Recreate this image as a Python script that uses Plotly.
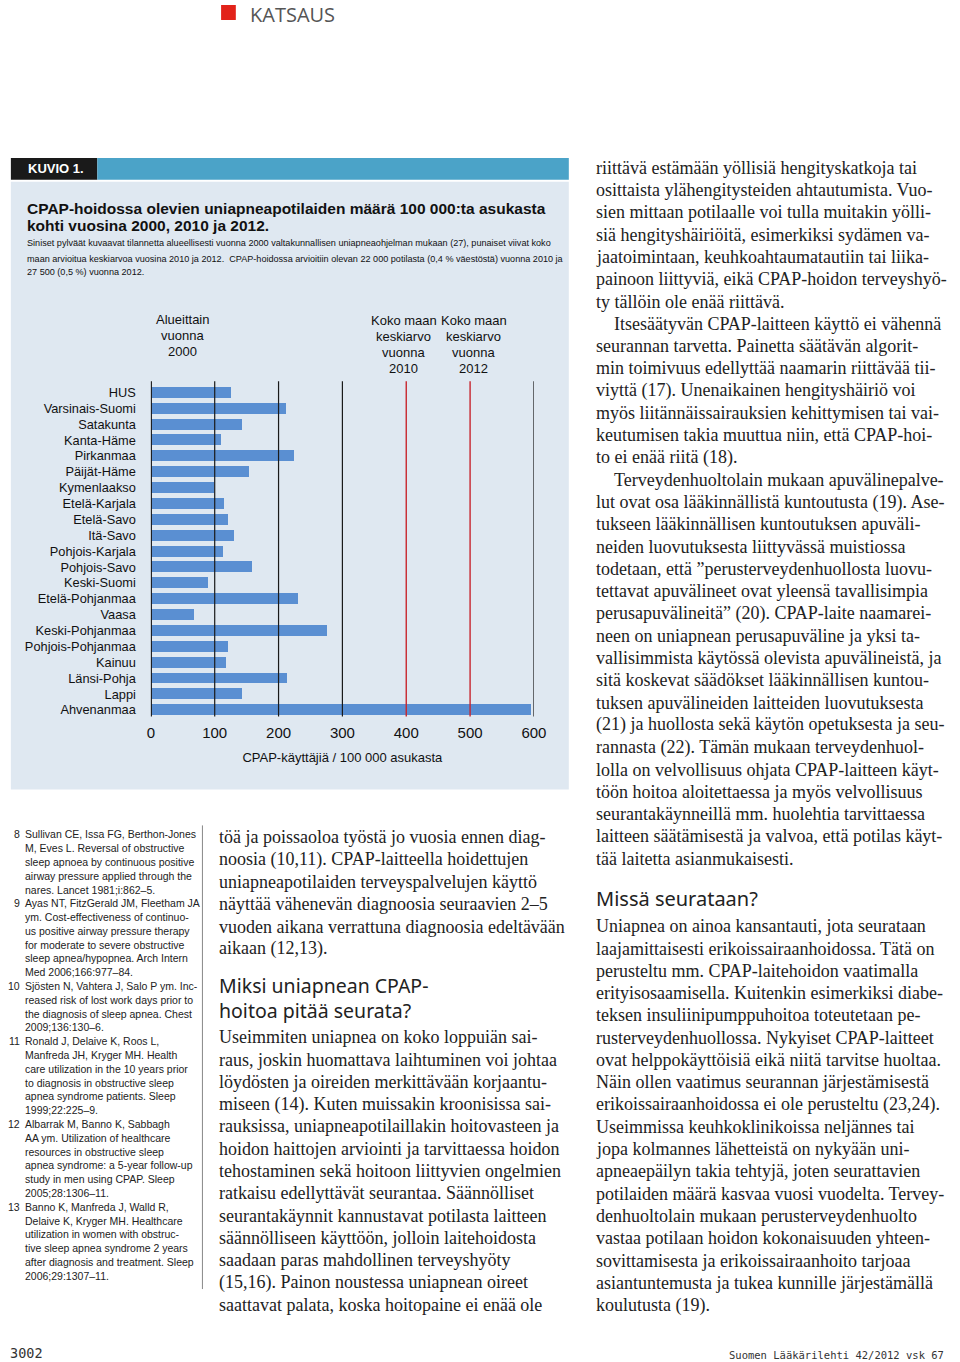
import plotly.graph_objects as go

W, H = 960, 1362

# ---------------- data ----------------
regions = ["HUS", "Varsinais-Suomi", "Satakunta", "Kanta-Häme", "Pirkanmaa", "Päijät-Häme",
           "Kymenlaakso", "Etelä-Karjala", "Etelä-Savo", "Itä-Savo", "Pohjois-Karjala",
           "Pohjois-Savo", "Keski-Suomi", "Etelä-Pohjanmaa", "Vaasa", "Keski-Pohjanmaa",
           "Pohjois-Pohjanmaa", "Kainuu", "Länsi-Pohja", "Lappi", "Ahvenanmaa"]
cpap_2000 = [125, 212, 143, 110, 224, 154, 99, 115, 121, 130, 113,
             158, 90, 230, 68, 275, 121, 118, 213, 142, 595]
avg_years = [2010, 2012]
avg_values = [400, 500]
x_ticks = [0, 100, 200, 300, 400, 500, 600]

NARROW = "'Liberation Sans Narrow', 'Arial Narrow', 'Liberation Sans', Arial, sans-serif"
SERIF = "'Liberation Serif', serif"
SANS = "'Noto Sans', 'Open Sans', sans-serif"


def px(x):
    return x / W


def py(y):
    return 1 - y / H


annotations = []


def txt(text, x, y, size, family=NARROW, color="#222", xanchor="left", weight="normal"):
    annotations.append(dict(text=text, x=px(x), y=py(y), xref="paper", yref="paper",
                            xanchor=xanchor, yanchor="middle", showarrow=False, borderpad=0,
                            align="left" if xanchor == "left" else xanchor,
                            font=dict(size=size, family=family, color=color, weight=weight)))


shapes = []


def rect(x0, y0, x1, y1, color, layer="below"):
    shapes.append(dict(type="rect", xref="paper", yref="paper", x0=px(x0), x1=px(x1),
                       y0=py(y1), y1=py(y0), fillcolor=color, line=dict(width=0), layer=layer))


# ---------------- page header ----------------
rect(221, 5, 236, 20, "#e2231a")
txt("KATSAUS", 249, 15, 20, family="'Open Sans', 'Noto Sans', sans-serif", color="#555")

# ---------------- figure box ----------------
rect(7, 158, 95, 180, "#1a1a1a")
rect(95, 158, 575, 180, "#4ba3c8")
rect(7, 182, 575, 790, "#dfe8f1")
txt("KUVIO 1.", 23, 169, 13, color="white", weight="bold")

txt("CPAP-hoidossa olevien uniapneapotilaiden määrä 100 000:ta asukasta", 22, 209, 15.5, weight="bold", color="#111")
txt("kohti vuosina 2000, 2010 ja 2012.", 22, 226, 15.5, weight="bold", color="#111")
txt("Siniset pylväät kuvaavat tilannetta alueellisesti vuonna 2000 valtakunnallisen uniapneaohjelman mukaan (27), punaiset viivat koko",
    22, 243, 9.1, color="#111")
txt("maan arvioitua keskiarvoa vuosina 2010 ja 2012.  CPAP-hoidossa arvioitiin olevan 22 000 potilasta (0,4 % väestöstä) vuonna 2010 ja",
    22, 259, 9.1, color="#111")
txt("27 500 (0,5 %) vuonna 2012.", 22, 272, 9.1, color="#111")

for i, t in enumerate(["Alueittain", "vuonna", "2000"]):
    txt(t, 182, 320 + 16 * i, 13, xanchor="center", color="#111")
for cx, yr in zip([407, 478], avg_years):
    for i, t in enumerate(["Koko maan", "keskiarvo", "vuonna", str(yr)]):
        txt(t, cx, 321 + 16 * i, 13, xanchor="center", color="#111")

# ---------------- chart ----------------
Y_TOP, Y_BOT = 381.5, 717.0
fig = go.Figure()
fig.add_trace(go.Bar(x=cpap_2000, y=regions, orientation="h", marker=dict(color="#5a8fd2", line=dict(width=0)),
                     width=0.69, showlegend=False))

for v in x_ticks:
    if v in avg_values:
        continue
    shapes.append(dict(type="line", xref="x", yref="paper", x0=v, x1=v, y0=py(Y_BOT), y1=py(Y_TOP),
                       line=dict(color="#1a1a1a", width=2.2 if v == 0 else 1.2), layer="above"))
for v in avg_values:
    shapes.append(dict(type="line", xref="x", yref="paper", x0=v, x1=v, y0=py(Y_BOT), y1=py(Y_TOP),
                       line=dict(color="#c8262e", width=1.4), layer="above"))

first_c, spacing = 392.8, 15.885
r_top = -(first_c - Y_TOP) / spacing
r_bot = (Y_BOT - first_c) / spacing

# ---------------- body text ----------------
LH = 22.3
right_col = [
    "riittävä estämään yöllisiä hengityskatkoja tai",
    "osittaista ylähengitysteiden ahtautumista. Vuo-",
    "sien mittaan potilaalle voi tulla muitakin yölli-",
    "siä hengityshäiriöitä, esimerkiksi sydämen va-",
    "jaatoimintaan, keuhkoahtaumatautiin tai liika-",
    "painoon liittyviä, eikä CPAP-hoidon terveyshyö-",
    "ty tällöin ole enää riittävä.",
    "    Itsesäätyvän CPAP-laitteen käyttö ei vähennä",
    "seurannan tarvetta. Painetta säätävän algorit-",
    "min toimivuus edellyttää naamarin riittävää tii-",
    "viyttä (17). Unenaikainen hengityshäiriö voi",
    "myös liitännäissairauksien kehittymisen tai vai-",
    "keutumisen takia muuttua niin, että CPAP-hoi-",
    "to ei enää riitä (18).",
    "    Terveydenhuoltolain mukaan apuvälinepalve-",
    "lut ovat osa lääkinnällistä kuntoutusta (19). Ase-",
    "tukseen lääkinnällisen kuntoutuksen apuväli-",
    "neiden luovutuksesta liittyvässä muistiossa",
    "todetaan, että ”perusterveydenhuollosta luovu-",
    "tettavat apuvälineet ovat yleensä tavallisimpia",
    "perusapuvälineitä” (20). CPAP-laite naamarei-",
    "neen on uniapnean perusapuväline ja yksi ta-",
    "vallisimmista käytössä olevista apuvälineistä, ja",
    "sitä koskevat säädökset lääkinnällisen kuntou-",
    "tuksen apuvälineiden laitteiden luovutuksesta",
    "(21) ja huollosta sekä käytön opetuksesta ja seu-",
    "rannasta (22). Tämän mukaan terveydenhuol-",
    "lolla on velvollisuus ohjata CPAP-laitteen käyt-",
    "töön hoitoa aloitettaessa ja myös velvollisuus",
    "seurantakäynneillä mm. huolehtia tarvittaessa",
    "laitteen säätämisestä ja valvoa, että potilas käyt-",
    "tää laitetta asianmukaisesti.",
]
right_col2 = [
    "Uniapnea on ainoa kansantauti, jota seurataan",
    "laajamittaisesti erikoissairaanhoidossa. Tätä on",
    "perusteltu mm. CPAP-laitehoidon vaatimalla",
    "erityisosaamisella. Kuitenkin esimerkiksi diabe-",
    "teksen insuliinipumppuhoitoa toteutetaan pe-",
    "rusterveydenhuollossa. Nykyiset CPAP-laitteet",
    "ovat helppokäyttöisiä eikä niitä tarvitse huoltaa.",
    "Näin ollen vaatimus seurannan järjestämisestä",
    "erikoissairaanhoidossa ei ole perusteltu (23,24).",
    "Useimmissa keuhkoklinikoissa neljännes tai",
    "jopa kolmannes lähetteistä on nykyään uni-",
    "apneaepäilyn takia tehtyjä, joten seurattavien",
    "potilaiden määrä kasvaa vuosi vuodelta. Tervey-",
    "denhuoltolain mukaan perusterveydenhuolto",
    "vastaa potilaan hoidon kokonaisuuden yhteen-",
    "sovittamisesta ja erikoissairaanhoito tarjoaa",
    "asiantuntemusta ja tukea kunnille järjestämällä",
    "koulutusta (19).",
]
mid_col = [
    "töä ja poissaoloa työstä jo vuosia ennen diag-",
    "noosia (10,11). CPAP-laitteella hoidettujen",
    "uniapneapotilaiden terveyspalvelujen käyttö",
    "näyttää vähenevän diagnoosia seuraavien 2–5",
    "vuoden aikana verrattuna diagnoosia edeltävään",
    "aikaan (12,13).",
]
mid_col2 = [
    "Useimmiten uniapnea on koko loppuiän sai-",
    "raus, joskin huomattava laihtuminen voi johtaa",
    "löydösten ja oireiden merkittävään korjaantu-",
    "miseen (14). Kuten muissakin kroonisissa sai-",
    "rauksissa, uniapneapotilaillakin hoitovasteen ja",
    "hoidon haittojen arviointi ja tarvittaessa hoidon",
    "tehostaminen sekä hoitoon liittyvien ongelmien",
    "ratkaisu edellyttävät seurantaa. Säännölliset",
    "seurantakäynnit kannustavat potilasta laitteen",
    "säännölliseen käyttöön, jolloin laitehoidosta",
    "saadaan paras mahdollinen terveyshyöty",
    "(15,16). Painon noustessa uniapnean oireet",
    "saattavat palata, koska hoitopaine ei enää ole",
]
BODY = 18
for i, t in enumerate(right_col):
    x = 602
    if t.startswith("    "):
        x = 620
        t = t.strip()
    txt(t, x, 168 + LH * i, BODY, family=SERIF, color="#222")
txt("Missä seurataan?", 602, 899, 20, family=SANS, color="#222")
for i, t in enumerate(right_col2):
    txt(t, 602, 927 + LH * i, BODY, family=SERIF, color="#222")
for i, t in enumerate(mid_col):
    txt(t, 218, 838 + LH * i, BODY, family=SERIF, color="#222")
txt("Miksi uniapnean CPAP-<br>hoitoa pitää seurata?", 218, 999, 19.5, family=SANS, color="#222")
for i, t in enumerate(mid_col2):
    txt(t, 218, 1038 + LH * i, BODY, family=SERIF, color="#222")

# references
refs = [
    ("8", ["Sullivan CE, Issa FG, Berthon-Jones", "M, Eves L. Reversal of obstructive",
           "sleep apnoea by continuous positive", "airway pressure applied through the",
           "nares. Lancet 1981;i:862–5."]),
    ("9", ["Ayas NT, FitzGerald JM, Fleetham JA", "ym. Cost-effectiveness of continuo-",
           "us positive airway pressure therapy", "for moderate to severe obstructive",
           "sleep apnea/hypopnea. Arch Intern", "Med 2006;166:977–84."]),
    ("10", ["Sjösten N, Vahtera J, Salo P ym. Inc-", "reased risk of lost work days prior to",
            "the diagnosis of sleep apnea. Chest", "2009;136:130–6."]),
    ("11", ["Ronald J, Delaive K, Roos L,", "Manfreda JH, Kryger MH. Health",
            "care utilization in the 10 years prior", "to diagnosis in obstructive sleep",
            "apnea syndrome patients. Sleep", "1999;22:225–9."]),
    ("12", ["Albarrak M, Banno K, Sabbagh", "AA ym. Utilization of healthcare",
            "resources in obstructive sleep", "apnea syndrome: a 5-year follow-up",
            "study in men using CPAP. Sleep", "2005;28:1306–11."]),
    ("13", ["Banno K, Manfreda J, Walld R,", "Delaive K, Kryger MH. Healthcare",
            "utilization in women with obstruc-", "tive sleep apnea syndrome 2 years",
            "after diagnosis and treatment. Sleep", "2006;29:1307–11."]),
]
k = 0
for num, lines in refs:
    txt(num, 17, 835 + 13.8 * k, 10.5, color="#222", xanchor="right")
    for t in lines:
        txt(t, 20, 835 + 13.8 * k, 10.5, color="#222")
        k += 1
shapes.append(dict(type="line", xref="paper", yref="paper", x0=px(202), x1=px(202), y0=py(1290), y1=py(826),
                   line=dict(color="#888", width=1)))

# footer
txt("3002", 5, 1354, 13.5, family="'DejaVu Sans Mono', monospace", color="#333")
txt("Suomen Lääkärilehti 42/2012 vsk 67", 958, 1356, 10.5, family="'DejaVu Sans Mono', monospace",
    color="#333", xanchor="right")

fig.update_layout(
    width=W, height=H, margin=dict(l=0, r=0, t=0, b=0),
    paper_bgcolor="white", plot_bgcolor="rgba(0,0,0,0)",
    shapes=shapes, annotations=annotations, bargap=0,
    xaxis=dict(domain=[px(149.5), px(539.5)], range=[0, 600], tickvals=x_ticks,
               showgrid=False, zeroline=False, showline=False, ticks="",
               tickfont=dict(size=15, family=NARROW, color="#111"), ticklabelstandoff=6,
               title=dict(text="CPAP-käyttäjiä / 100 000 asukasta",
                          font=dict(size=13, family=NARROW, color="#111"), standoff=12),
               anchor="y", fixedrange=True),
    yaxis=dict(domain=[py(Y_BOT), py(Y_TOP)], type="category", categoryorder="array",
               categoryarray=regions, range=[r_bot, r_top], showgrid=False, zeroline=False,
               showline=False, ticks="", tickfont=dict(size=12.8, family=NARROW, color="#111"),
               ticklabelstandoff=14, fixedrange=True),
)

fig.write_html("out.html", config={"displayModeBar": False},
               post_script="document.body.style.margin='0';document.body.style.overflow='hidden';")
